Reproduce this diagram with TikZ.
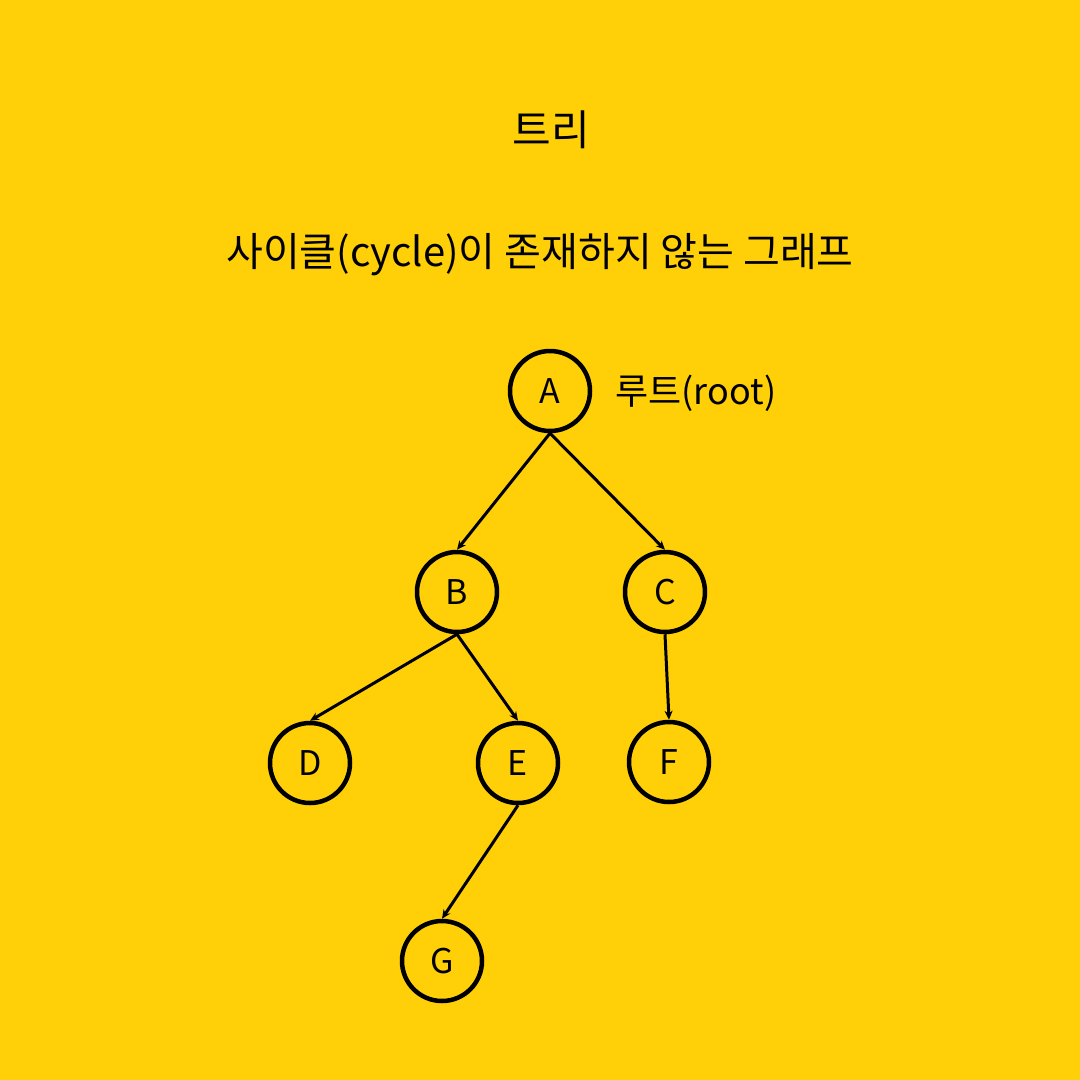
\documentclass[tikz,border=0pt]{standalone}
\usepackage{fontspec}
\setmainfont{Noto Sans CJK KR}
\usetikzlibrary{arrows.meta}
\definecolor{bgyellow}{HTML}{FFCF08}
\begin{document}
\begin{tikzpicture}[x=1pt,y=-1pt,
  treenode/.style={circle,draw=black,line width=4.5pt,minimum size=80pt,inner sep=0pt,font=\fontsize{34}{34}\selectfont},
  edge/.style={line width=3pt,-{Stealth[length=9pt,width=8pt]}},
  ]
\fill[bgyellow] (0,0) rectangle (1080,1080);
\useasboundingbox (0,0) rectangle (1080,1080);
\node[font=\fontsize{42}{42}\selectfont] (title) at (551,130) {트리};
\node[font=\fontsize{40}{40}\selectfont] (sub) at (540,255) {사이클(cycle)이 존재하지 않는 그래프};
\node[treenode] (A) at (550,391) {A};
\node[treenode] (B) at (457,592) {B};
\node[treenode] (C) at (665,592) {C};
\node[treenode] (D) at (310,763) {D};
\node[treenode] (E) at (518,763) {E};
\node[treenode] (F) at (669,762) {F};
\node[treenode] (G) at (442,961) {G};
\node[font=\fontsize{36}{36}\selectfont,anchor=west] (root) at (612,393) {루트(root)};
\draw[edge] (A.south) -- (B.north);
\draw[edge] (A.south) -- (C.north);
\draw[edge] (B.south) -- (D.north);
\draw[edge] (B.south) -- (E.north);
\draw[edge] (C.south) -- (F.north);
\draw[edge] (E.south) -- (G.north);
\end{tikzpicture}
\end{document}
